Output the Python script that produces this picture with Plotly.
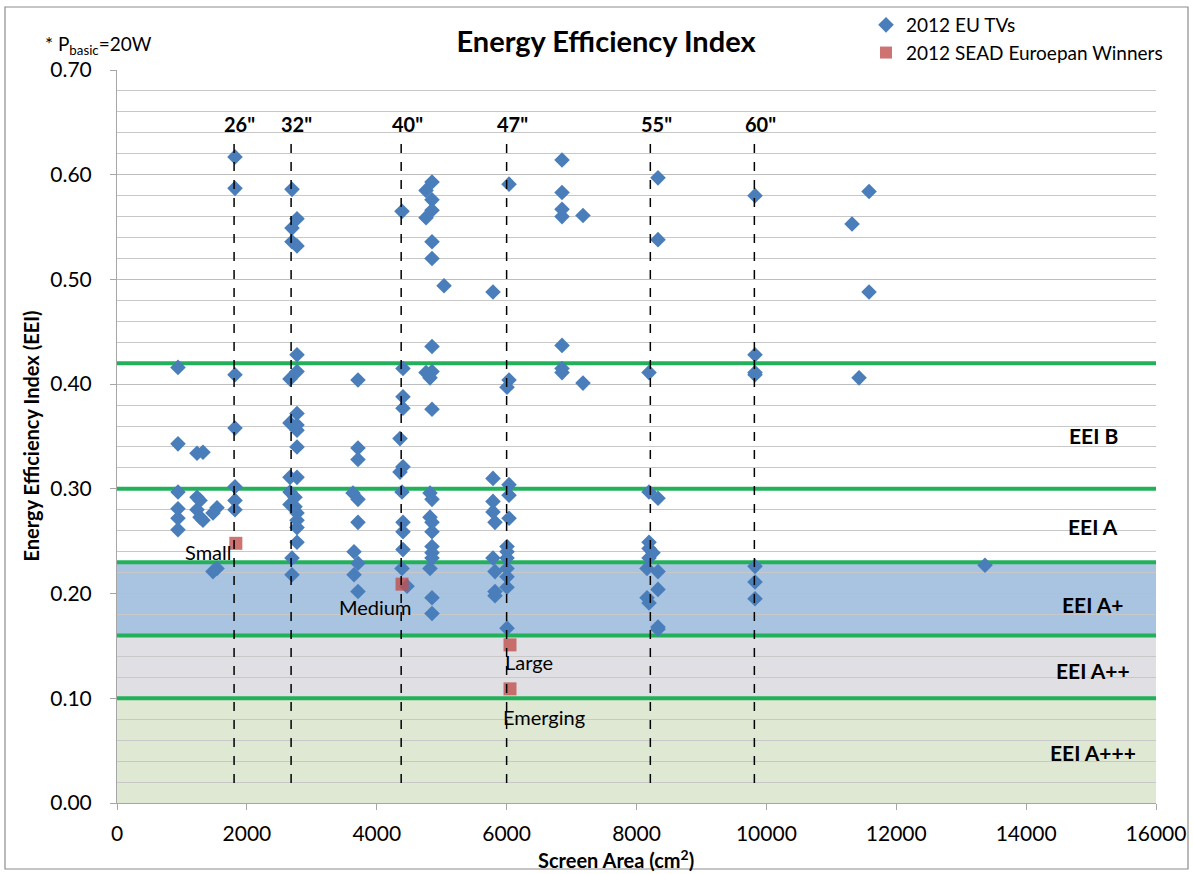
import plotly.graph_objects as go

# ---------------- data ----------------
eu_area = [
    939, 939, 939, 939, 939, 939,
    1232, 1324, 1232, 1278, 1232, 1278, 1324, 1540, 1478, 1478, 1540,
    1817, 1817, 1817, 1817, 1817, 1817, 1817,
    2695, 2772, 2695, 2695, 2772,
    2772, 2772, 2664, 2772, 2664, 2772, 2772, 2772, 2664, 2772,
    2664, 2741, 2664, 2741, 2772, 2772, 2772, 2772, 2695, 2695,
    3711, 3711, 3711, 3634, 3711, 3711, 3650, 3711, 3650, 3711,
    4389, 4404, 4404, 4404, 4358, 4404, 4358, 4389, 4404, 4404, 4404, 4389, 4466,
    4851, 4759, 4851, 4851, 4759, 4851, 4851, 5036, 4851,
    4759, 4851, 4820, 4851, 4820, 4851, 4820, 4851, 4851, 4851, 4851, 4851, 4820, 4851, 4851,
    5790, 5790, 5790, 5790, 5821, 5790, 5821, 5821, 5821,
    6037, 6037, 6006, 6037, 6037, 6037, 6006, 6006, 6006, 6006, 6006, 6006, 6006,
    6853, 6853, 6853, 6853, 7176, 6853, 6853, 6853, 7176,
    8331, 8331, 8193, 8193, 8331, 8193, 8193, 8254, 8193, 8162, 8331, 8331, 8162, 8193, 8331, 8331,
    9825, 9825, 9825, 9825, 9825, 9825, 9825,
    11319, 11581, 11581, 11427, 13367,
]
eu_eei = [
    0.416, 0.343, 0.297, 0.281, 0.272, 0.261,
    0.334, 0.335, 0.292, 0.289, 0.280, 0.273, 0.270, 0.282, 0.277, 0.221, 0.224,
    0.617, 0.587, 0.409, 0.358, 0.302, 0.289, 0.280,
    0.586, 0.558, 0.549, 0.536, 0.532,
    0.428, 0.412, 0.405, 0.372, 0.363, 0.361, 0.356, 0.340, 0.311, 0.311,
    0.297, 0.292, 0.285, 0.283, 0.277, 0.270, 0.263, 0.249, 0.234, 0.218,
    0.404, 0.339, 0.328, 0.296, 0.290, 0.268, 0.240, 0.229, 0.218, 0.202,
    0.565, 0.415, 0.388, 0.377, 0.348, 0.321, 0.316, 0.297, 0.268, 0.259, 0.242, 0.224, 0.207,
    0.593, 0.585, 0.576, 0.566, 0.559, 0.536, 0.520, 0.494, 0.436,
    0.411, 0.412, 0.406, 0.376, 0.296, 0.290, 0.273, 0.268, 0.259, 0.245, 0.239, 0.234, 0.224, 0.196, 0.181,
    0.488, 0.310, 0.288, 0.278, 0.268, 0.234, 0.221, 0.202, 0.198,
    0.591, 0.404, 0.397, 0.304, 0.294, 0.272, 0.245, 0.240, 0.224, 0.216, 0.206, 0.167, 0.234,
    0.614, 0.583, 0.567, 0.560, 0.561, 0.437, 0.415, 0.411, 0.401,
    0.597, 0.538, 0.411, 0.297, 0.291, 0.249, 0.243, 0.239, 0.234, 0.224, 0.221, 0.204, 0.196, 0.191, 0.168, 0.166,
    0.580, 0.428, 0.411, 0.409, 0.226, 0.211, 0.195,
    0.553, 0.584, 0.488, 0.406, 0.227,
]

winner_area = [1830, 4389, 6052, 6052]
winner_eei = [0.248, 0.209, 0.151, 0.109]
winner_labels = ["Small", "Medium", "Large", "Emerging"]

size_labels = ['26"', '32"', '40"', '47"', '55"', '60"']
size_areas = [1803, 2681, 4376, 6000, 8213, 9815]

thresholds = [0.10, 0.16, 0.23, 0.30, 0.42]
band_labels = ["EEI A+++", "EEI A++", "EEI A+", "EEI A", "EEI B"]
band_label_y = [0.048, 0.127, 0.190, 0.264, 0.351]

x_ticks = [0, 2000, 4000, 6000, 8000, 10000, 12000, 14000, 16000]
y_ticks = [0.0, 0.1, 0.2, 0.3, 0.4, 0.5, 0.6, 0.7]

# ---------------- figure ----------------
FONT = "Lato, 'Open Sans', sans-serif"
W, H = 1193, 874
L, R, T, B = 117, 37, 70, 71
pw, ph = W - L - R, H - T - B

def px_x(px):
    return (px - L) / pw

def px_y(py):
    return (H - B - py) / ph

fig = go.Figure()

fig.add_trace(go.Scatter(
    x=eu_area, y=eu_eei, mode="markers", name="2012 EU TVs",
    marker=dict(symbol="diamond", size=12, color="#4a7ebb",
                line=dict(width=0)),
))
fig.add_trace(go.Scatter(
    x=winner_area, y=winner_eei, mode="markers",
    name="2012 SEAD Euroepan Winners",
    marker=dict(symbol="square", size=13, color="#c0504d", opacity=0.8,
                line=dict(width=0)),
))

shapes = []
band_fills = ["#dfe8d3", "#e0e0e4", "#a9c4e0"]
band_edges = [0.0] + thresholds[:3]
for i, col in enumerate(band_fills):
    shapes.append(dict(type="rect", xref="x", yref="y", x0=0, x1=16000,
                       y0=band_edges[i], y1=band_edges[i + 1],
                       fillcolor=col, line=dict(width=0), layer="below"))
for t in thresholds:
    shapes.append(dict(type="line", xref="x", yref="y", x0=0, x1=16000,
                       y0=t, y1=t, line=dict(color="#22b05a", width=4),
                       layer="between"))
for a in size_areas:
    shapes.append(dict(type="line", xref="x", yref="y", x0=a, x1=a,
                       y0=0.019, y1=0.638,
                       line=dict(color="black", width=1.5, dash="dash"),
                       layer="above"))
shapes.append(dict(type="rect", xref="paper", yref="paper",
                   x0=px_x(5), x1=px_x(1188), y0=px_y(869), y1=px_y(7),
                   line=dict(color="#8c8c8c", width=1.2),
                   fillcolor="rgba(0,0,0,0)", layer="below"))

annotations = []
for lab, a in zip(size_labels, size_areas):
    annotations.append(dict(x=a + 90, y=0.648, xref="x", yref="y",
                            text=f"<b>{lab}</b>", showarrow=False,
                            font=dict(family=FONT, size=20, color="black")))
for lab, yv in zip(band_labels, band_label_y):
    annotations.append(dict(x=15030, y=yv, xref="x", yref="y",
                            text=f"<b>{lab}</b>", showarrow=False,
                            font=dict(family=FONT, size=21, color="black")))

winner_label_pos = [(1790, 0.240, "right"), (3973, 0.187, "center"),
                    (5944, 0.135, "left"), (5914, 0.082, "left")]
for lab, (xv, yv, anc) in zip(winner_labels, winner_label_pos):
    annotations.append(dict(x=xv, y=yv, xref="x", yref="y", text=lab,
                            showarrow=False, xanchor=anc,
                            font=dict(family=FONT, size=20, color="black")))

annotations.append(dict(x=px_x(43), y=px_y(45), xref="paper", yref="paper",
                        text="* P<sub>basic</sub>=20W", showarrow=False,
                        xanchor="left", yanchor="middle",
                        font=dict(family=FONT, size=19, color="black")))
annotations.append(dict(x=px_x(30), y=0.5, xref="paper", yref="paper",
                        text="<b>Energy Efficiency Index (EEI)</b>",
                        showarrow=False, textangle=-90,
                        xanchor="center", yanchor="middle",
                        font=dict(family=FONT, size=20, color="black")))
annotations.append(dict(x=0.48, y=px_y(859), xref="paper", yref="paper",
                        text="<b>Screen Area (cm<sup>2</sup>)</b>",
                        showarrow=False, xanchor="center", yanchor="middle",
                        font=dict(family=FONT, size=20, color="black")))

fig.update_layout(
    width=W, height=H,
    margin=dict(l=L, r=R, t=T, b=B, autoexpand=False),
    paper_bgcolor="white", plot_bgcolor="white",
    font=dict(family=FONT, color="black"),
    title=dict(text="<b>Energy Efficiency Index</b>", x=606 / W,
               xanchor="center", y=1 - 42 / H, yanchor="middle",
               font=dict(family=FONT, size=29, color="black")),
    legend=dict(x=px_x(866), y=px_y(6), xanchor="left", yanchor="top",
                bgcolor="rgba(0,0,0,0)", font=dict(family=FONT, size=19),
                itemwidth=30, itemsizing="constant", tracegroupgap=4),
    shapes=shapes, annotations=annotations,
    xaxis=dict(range=[0, 16000], tickvals=x_ticks,
               ticktext=[str(v) for v in x_ticks],
               showgrid=False, zeroline=False, showline=True,
               linecolor="#a6a6a6", linewidth=1, ticks="outside",
               ticklen=6, tickcolor="#a6a6a6",
               tickfont=dict(family=FONT, size=21), ticklabelstandoff=6),
    yaxis=dict(range=[0, 0.70], tickvals=y_ticks,
               ticktext=[f"{v:.2f}" for v in y_ticks],
               showgrid=True, gridcolor="#bdbdbd", gridwidth=1,
               minor=dict(dtick=0.02, tick0=0, showgrid=True,
                          gridcolor="#c8c8c8", gridwidth=1),
               zeroline=False, showline=True, linecolor="#a6a6a6",
               linewidth=1, ticks="outside", ticklen=6, tickcolor="#a6a6a6",
               tickfont=dict(family=FONT, size=21), ticklabelstandoff=14),
)

fig.write_html("out.html", config={"displayModeBar": False},
               post_script="document.body.style.margin='0';")
